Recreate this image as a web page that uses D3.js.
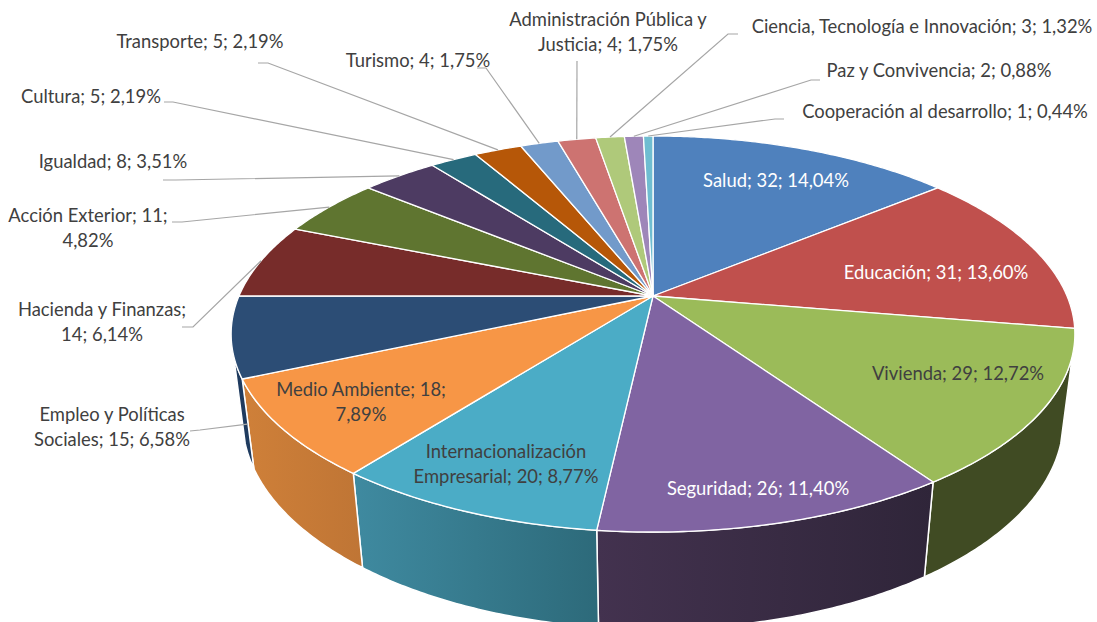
<!DOCTYPE html>
<html lang="es">
<head>
    <meta charset="UTF-8">
    <title>Distribución por áreas</title>
    <script src="https://d3js.org/d3.v7.min.js"></script>
    <style>
        html, body { margin: 0; padding: 0; background: #fff; overflow: hidden; }
        svg { display: block; }
        text { font-family: Lato, "Open Sans", sans-serif; font-size: 18.4px; fill: #404040; text-anchor: middle; }
    </style>
</head>
<body>
    <svg id="chart" width="1097" height="622"></svg>
    <script>
        // Data
        const categories = ["Salud", "Educación", "Vivienda", "Seguridad", "Internacionalización Empresarial",
            "Medio Ambiente", "Empleo y Políticas Sociales", "Hacienda y Finanzas", "Acción Exterior", "Igualdad",
            "Cultura", "Transporte", "Turismo", "Administración Pública y Justicia",
            "Ciencia, Tecnología e Innovación", "Paz y Convivencia", "Cooperación al desarrollo"];
        const values = [32, 31, 29, 26, 20, 18, 15, 14, 11, 8, 5, 5, 4, 4, 3, 2, 1];

        // Styles
        const topColors = ["#4f81bd", "#c0504d", "#9bbb59", "#8064a2", "#4bacc6", "#f79646", "#2c4d75", "#772c2a",
            "#5f7530", "#4d3b62", "#276a7c", "#b65708", "#729aca", "#cd7371", "#afc97a", "#9e86b9", "#6fbdd1"];
        const wallLeft = {2: "#404b23", 3: "#43324f", 4: "#3f8aa0", 5: "#cf8039", 6: "#1f3b5f"};
        const wallRight = {2: "#404b23", 3: "#2f2539", 4: "#2d6a7a", 5: "#bf7535", 6: "#1f3b5f"};
        const whiteLabels = [0, 1, 3];

        // Label layout: centre x, first line y, words on the first line (0 = one line)
        const labelX = [776, 936, 958, 758, 506, 361, 112, 102, 88, 113, 91, 200, 418, 608, 922, 939, 945];
        const labelY = [181, 273, 374, 489, 452, 390, 415, 310, 216, 162, 97, 42, 61, 20, 27, 71, 112];
        const labelWords = [0, 0, 0, 0, 1, 3, 3, 3, 3, 0, 0, 0, 0, 3, 0, 0, 0];
        const lineGap = 25;

        // Leader lines: outer point and elbow, null when the label sits inside its slice
        const leaderStart = [null, null, null, null, null, null, [190, 431], [182, 327], [172, 222], [163, 180],
            [164, 102], [258, 63], [477, 68], [577, 61], [738, 34], [820, 80], [784, 119]];
        const leaderElbow = [null, null, null, null, null, null, [200, 430], [193, 327], [182, 222], [176, 180],
            [173, 102], [268, 63], [486, 68], [577, 61], [728, 34], [811, 80], [775, 119]];

        const cx = 653, cy = 296;
        const radiusX = 414, radiusY = 190.7, perspective = 0.192;
        const depthY = 87.4, depthW = 0.027;
        const wallFrom = 107 * Math.PI / 180, wallTo = 253 * Math.PI / 180;

        // Circle of the pie seen in perspective; t = 0 is the top face, t = 1 the bottom rim
        function project(a, t = 0) {
            const w = 1 + perspective * Math.cos(a) + depthW * t;
            return [cx + radiusX * Math.sin(a) / w, cy + (-radiusY * Math.cos(a) + depthY * t) / w];
        }

        function arcPoints(a0, a1, t) {
            const n = Math.max(2, Math.ceil(Math.abs(a1 - a0) / 0.01));
            return d3.range(n + 1).map(i => project(a0 + (a1 - a0) * i / n, t));
        }

        const svg = d3.select("#chart");
        const defs = svg.append("defs");
        const line = d3.line();
        const total = d3.sum(values);
        const formatPct = v => d3.format(".2f")(v / total * 100).replace(".", ",");
        const slices = d3.pie().sort(null).value(d => d)(values);

        // Side walls first, top faces go over them
        const walls = slices.map((s, i) => ({
            i,
            a0: Math.max(s.startAngle, wallFrom),
            a1: Math.min(s.endAngle, wallTo)
        })).filter(d => d.a1 > d.a0);

        walls.forEach(d => {
            const g = defs.append("linearGradient").attr("id", "wall" + d.i);
            g.append("stop").attr("offset", 0).attr("stop-color", wallLeft[d.i]);
            g.append("stop").attr("offset", 1).attr("stop-color", wallRight[d.i]);
        });

        svg.append("g").selectAll("path")
            .data(walls)
            .join("path")
            .attr("d", d => line(arcPoints(d.a0, d.a1, 0).concat(arcPoints(d.a1, d.a0, 1))) + "Z")
            .attr("fill", d => `url(#wall${d.i})`)
            .attr("stroke", "#fff")
            .attr("stroke-width", 1.5)
            .attr("stroke-linejoin", "round");

        svg.append("g").selectAll("path")
            .data(slices)
            .join("path")
            .attr("d", s => line([[cx, cy]].concat(arcPoints(s.startAngle, s.endAngle, 0))) + "Z")
            .attr("fill", (s, i) => topColors[i])
            .attr("stroke", "#fff")
            .attr("stroke-width", 1.3)
            .attr("stroke-linejoin", "round");

        // Leader lines
        const leaderEnd = (s, i) => {
            // Empleo's leader lands on its side wall, next to the orange slice
            if (i === 6) return project(s.startAngle + 0.01, 0.52);
            return project((s.startAngle + s.endAngle) / 2);
        };
        svg.append("g").selectAll("path")
            .data(slices.filter((s, i) => leaderStart[i]))
            .join("path")
            .attr("d", s => line([leaderStart[s.index], leaderElbow[s.index], leaderEnd(s, s.index)]))
            .attr("fill", "none")
            .attr("stroke", "#a6a6a6")
            .attr("stroke-width", 1.2);

        // Data labels
        const labels = svg.append("g").selectAll("text")
            .data(slices)
            .join("text")
            .attr("y", (s, i) => labelY[i])
            .style("fill", (s, i) => whiteLabels.includes(i) ? "#fff" : null);

        labels.each(function (s, i) {
            const words = (categories[i] + "; " + values[i] + "; " + formatPct(values[i]) + "%").split(" ");
            const k = labelWords[i];
            const rows = k ? [words.slice(0, k).join(" "), words.slice(k).join(" ")] : [words.join(" ")];
            d3.select(this).selectAll("tspan")
                .data(rows)
                .join("tspan")
                .attr("x", labelX[i])
                .attr("dy", (r, j) => j ? lineGap : "0.35em")
                .text(r => r);
        });
    </script>
</body>
</html>
